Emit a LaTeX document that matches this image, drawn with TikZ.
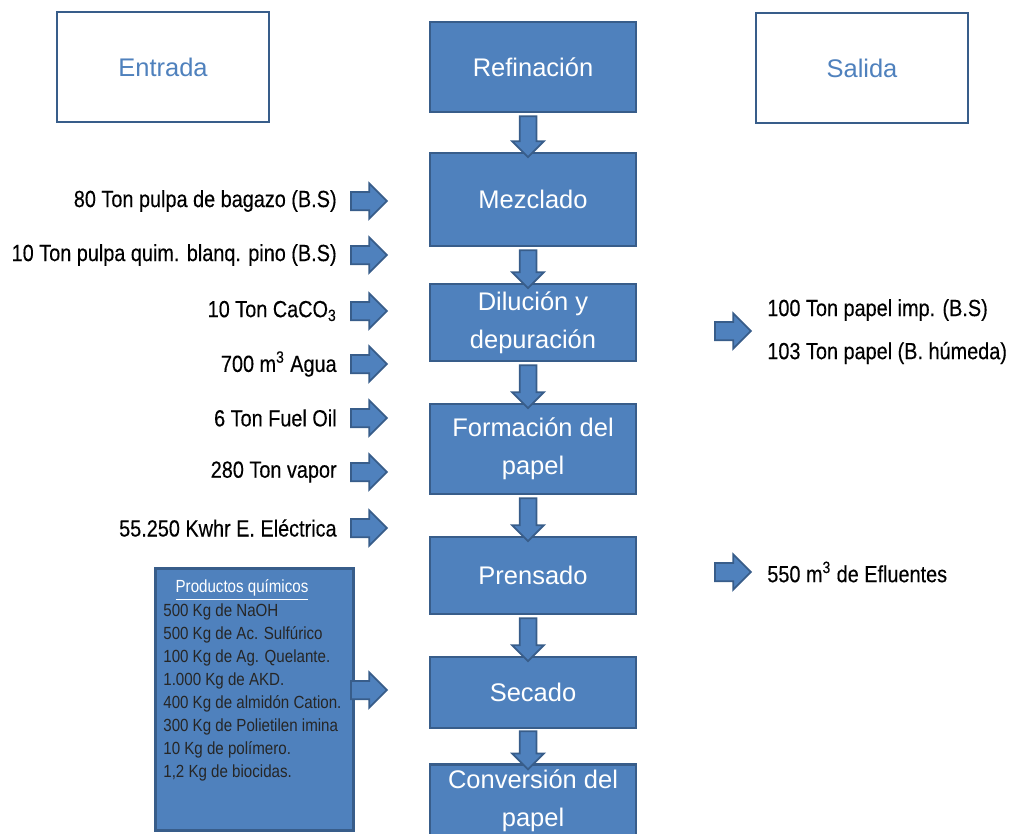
\documentclass[tikz,border=0pt]{standalone}
\usepackage{fontspec}
\setmainfont{Liberation Sans}
\newfontfamily\narrowfont[FakeStretch=0.85,FakeBold=0.3]{Liberation Sans}
\newfontfamily\listfont[FakeStretch=0.86]{Liberation Sans}
\usepackage{tikz}
\usetikzlibrary{shapes,arrows,positioning}
\definecolor{boxblue}{RGB}{79,129,189}
\definecolor{edgeblue}{RGB}{56,93,138}

\begin{document}
\begin{tikzpicture}[
    x=0.02cm, y=-0.02cm,
    stage/.style={draw=edgeblue, line width=1.6pt, fill=boxblue, text=white, minimum width=4.12cm, align=center, font=\fontsize{14.5}{21.6}\selectfont},
    header/.style={draw=edgeblue, line width=1.2pt, fill=white, text=boxblue, minimum width=4.24cm, minimum height=2.2cm, font=\fontsize{14.5}{17}\selectfont},
    sidearrow/.style={single arrow, draw=edgeblue, line width=1pt, fill=boxblue, inner sep=0pt, inner ysep=0.165cm, single arrow head extend=0.17cm, minimum height=0.72cm, anchor=tail},
    downarrow/.style={single arrow, draw=edgeblue, line width=1pt, fill=boxblue, inner sep=0pt, inner ysep=0.15cm, single arrow head extend=0.15cm, rotate=-90},
    inlabel/.style={inner sep=0pt, font=\narrowfont\fontsize{13.3}{15}\selectfont}
]
    \clip (0,0) rectangle (1013,833);

    % Headers
    \node[header] (entrada) at (163,67) {Entrada};
    \node[header] (salida) at (862,68) {Salida};

    % Process stages
    \node[stage, minimum height=1.8cm] (refin) at (533,67) {Refinación};
    \node[stage, minimum height=1.86cm] (mezcla) at (533,199.5) {Mezclado};
    \node[stage, minimum height=1.54cm] (dilu) at (533,322.5) {Dilución y\\depuración};
    \node[stage, minimum height=1.8cm] (forma) at (533,449) {Formación del\\papel};
    \node[stage, minimum height=1.54cm] (prensa) at (533,575.5) {Prensado};
    \node[stage, minimum height=1.42cm] (seca) at (533,692.5) {Secado};
    \node[stage, minimum height=1.4cm] (conv) at (533,801) {Conversión del\\papel};

    % Arrows between stages
    \foreach \a/\b/\len in {refin/mezcla/41, mezcla/dilu/38, dilu/forma/43, forma/prensa/43, prensa/seca/43, seca/conv/38}
        \path ([xshift=-0.1cm]\a.south) -- ([xshift=-0.1cm]\b.north)
            node[midway, downarrow, minimum height=\len*0.02cm] (d-\a) {};

    % Inputs
    \foreach \n/\y/\t in {1/201/{80 Ton pulpa de bagazo (B.S)}, 2/255/{10 Ton pulpa quim. blanq. pino (B.S)}, 3/311/{10 Ton CaCO\textsubscript{3}}, 4/364/{700 m\textsuperscript{3} Agua}, 5/418/{6 Ton Fuel Oil}, 6/472/{280 Ton vapor}, 7/528/{55.250 Kwhr E. Eléctrica}} {
        \node[sidearrow] (in\n) at (350,\y) {};
        \node[inlabel, left=0.26cm of in\n.tail] (intxt\n) {\t};
    }

    % Chemicals
    \node[draw=edgeblue, line width=1.6pt, fill=boxblue, minimum width=3.96cm, minimum height=5.24cm, anchor=north west] (quim) at (154,567) {};
    \node[text=white, inner sep=0pt, font=\listfont\fontsize{10}{13.1}\selectfont] (quimtit) at (242,590) {\underline{Productos químicos}};
    \node[anchor=west, align=left, inner sep=0pt, text=black!85, font=\listfont\fontsize{10}{13.1}\selectfont] (quimlist) at (163,692.5) {500 Kg de NaOH\\500 Kg de Ac. Sulfúrico\\100 Kg de Ag. Quelante.\\1.000 Kg de AKD.\\400 Kg de almidón Cation.\\300 Kg de Polietilen imina\\10 Kg de polímero.\\1,2 Kg de biocidas.};
    \node[sidearrow] (in8) at (350,690) {};

    % Outputs
    \node[sidearrow] (out1) at (714,331) {};
    \node[inlabel, anchor=west] (outtxt1) at (767,310) {100 Ton papel imp. (B.S)};
    \node[inlabel, anchor=west] (outtxt2) at (767,353) {103 Ton papel (B. húmeda)};
    \node[sidearrow] (out2) at (714,572) {};
    \node[inlabel, anchor=west] (outtxt3) at (767,572) {550 m\textsuperscript{3} de Efluentes};

\end{tikzpicture}
\end{document}
